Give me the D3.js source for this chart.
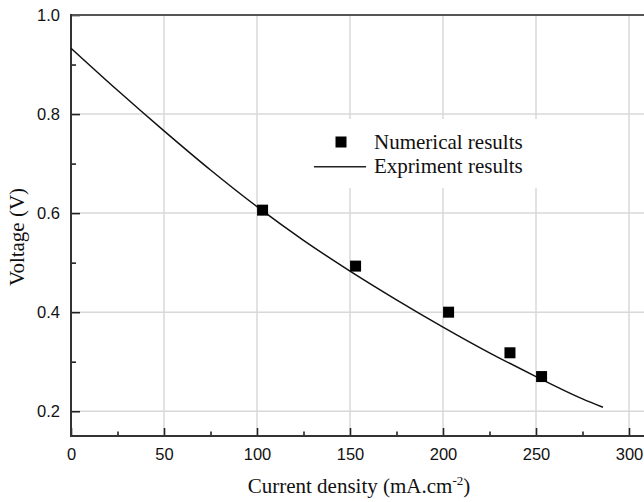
<!DOCTYPE html>
<html><head><meta charset="utf-8">
<script src="https://cdn.jsdelivr.net/npm/d3@7/dist/d3.min.js"></script>
<style>body{margin:0;background:#fff}svg{display:block}</style>
</head><body>
<svg id="c" width="644" height="502"></svg>
<script>
// Data
const numX = [103, 153, 203, 236, 253];
const numY = [0.606, 0.493, 0.400, 0.318, 0.270];
const expX = [0, 25, 50, 75, 100, 125, 150, 175, 200, 225, 250, 275, 286];
const expY = [0.933, 0.848, 0.766, 0.687, 0.613, 0.545, 0.483, 0.425, 0.370, 0.318, 0.270, 0.225, 0.208];
const xTicks = [0, 50, 100, 150, 200, 250, 300];
const yTicks = [0.2, 0.4, 0.6, 0.8, 1.0];
const xMinor = [25, 75, 125, 175, 225, 275];
const yMinor = [0.3, 0.5, 0.7, 0.9];
const legendLabels = ["Numerical results", "Expriment results"];

const svg = d3.select("#c");
const x = d3.scaleLinear().domain([0, 310]).range([71, 647.6]);
const y = d3.scaleLinear().domain([0.15, 1.0]).range([436, 15]);

// gridlines
const grid = svg.append("g").attr("stroke", "#d8d8d8").attr("stroke-width", 1.5);
grid.selectAll(".gx").data(xTicks.filter(d => d > 0)).join("line")
  .attr("x1", d => x(d)).attr("x2", d => x(d)).attr("y1", y(1.0)).attr("y2", y(0.15));
grid.selectAll(".gy").data(yTicks.filter(d => d < 1)).join("line")
  .attr("x1", x(0)).attr("x2", 644).attr("y1", d => y(d)).attr("y2", d => y(d));

// legend background
svg.append("rect").attr("x", 305).attr("y", 119).attr("width", 255).attr("height", 69).attr("fill", "#fff");

// axes
const fontSans = "'Liberation Sans', Arial, sans-serif";
const fontSerif = "'Liberation Serif', 'Times New Roman', serif";

const xAxis = svg.append("g").attr("transform", `translate(0,${y(0.15)})`)
  .call(d3.axisBottom(x).tickValues(xTicks).tickSize(-8).tickPadding(12).tickFormat(d3.format("d")));
xAxis.select(".domain").remove();
const xAxisMinor = svg.append("g").attr("transform", `translate(0,${y(0.15)})`)
  .call(d3.axisBottom(x).tickValues(xMinor).tickSize(-4.5).tickFormat(""));
xAxisMinor.select(".domain").remove();

const yAxis = svg.append("g").attr("transform", `translate(${x(0)},0)`)
  .call(d3.axisLeft(y).tickValues(yTicks).tickSize(-9).tickPadding(11).tickFormat(d3.format(".1f")));
yAxis.select(".domain").remove();
const yAxisMinor = svg.append("g").attr("transform", `translate(${x(0)},0)`)
  .call(d3.axisLeft(y).tickValues(yMinor).tickSize(-5).tickFormat(""));
yAxisMinor.select(".domain").remove();

svg.selectAll(".tick line").attr("stroke", "#222").attr("stroke-width", 1.6);
svg.selectAll(".tick text").attr("font-family", fontSans).attr("font-size", 16.5).attr("fill", "#111");

// frame lines
const frame = svg.append("g").attr("stroke", "#333").attr("stroke-width", 2).attr("fill", "none");
frame.append("line").attr("x1", x(0)).attr("x2", 644).attr("y1", y(0.15)).attr("y2", y(0.15));
frame.append("line").attr("x1", x(0)).attr("x2", 644).attr("y1", y(1.0)).attr("y2", y(1.0)).attr("stroke", "#555");
frame.append("line").attr("x1", x(0)).attr("x2", x(0)).attr("y1", y(1.0) - 1).attr("y2", y(0.15) + 1);

// experiment curve
const line = d3.line().x((d, i) => x(expX[i])).y((d, i) => y(d)).curve(d3.curveMonotoneX);
svg.append("path").attr("d", line(expY)).attr("fill", "none").attr("stroke", "#111").attr("stroke-width", 1.5);

// numerical squares
const sq = 11;
svg.selectAll(".pt").data(numX).join("rect")
  .attr("x", (d) => x(d) - sq / 2).attr("y", (d, i) => y(numY[i]) - sq / 2)
  .attr("width", sq).attr("height", sq).attr("fill", "#000");

// legend
const lg = svg.append("g");
lg.append("rect").attr("x", 341 - 5.5).attr("y", 142 - 5.5).attr("width", 11).attr("height", 11).attr("fill", "#000");
lg.append("line").attr("x1", 314).attr("x2", 366).attr("y1", 166.7).attr("y2", 166.7).attr("stroke", "#222").attr("stroke-width", 1.5);
lg.selectAll("text").data(legendLabels).join("text")
  .attr("x", 374).attr("y", (d, i) => 148.5 + i * 24.5)
  .attr("font-family", fontSerif).attr("font-size", 21).attr("fill", "#111").text(d => d);

// axis titles
svg.append("text").attr("transform", `translate(24,237) rotate(-90)`)
  .attr("text-anchor", "middle").attr("font-family", fontSerif).attr("font-size", 21).attr("fill", "#111")
  .text("Voltage (V)");
const xt = svg.append("text").attr("x", 359).attr("y", 493).attr("text-anchor", "middle")
  .attr("font-family", fontSerif).attr("font-size", 21).attr("fill", "#111");
xt.append("tspan").text("Current density (mA.cm");
xt.append("tspan").attr("font-size", 13).attr("dy", -8).text("-2");
xt.append("tspan").attr("dy", 8).text(")");
</script>
</body></html>
